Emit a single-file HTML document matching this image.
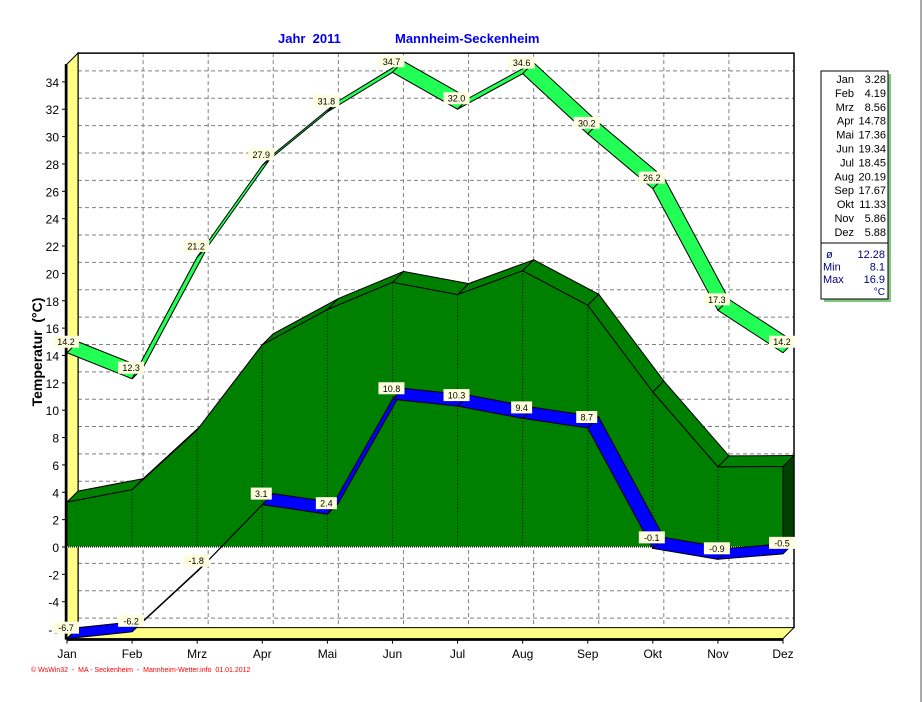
<!DOCTYPE html>
<html><head><meta charset="utf-8"><style>
body{margin:0;background:#fff;width:923px;height:702px;overflow:hidden;font-family:"Liberation Sans",sans-serif}
svg{position:absolute;left:0;top:0}
</style></head><body>
<svg width="923" height="702">
<line x1="921" y1="0" x2="921" y2="702" stroke="#aaa" stroke-width="2"/>
<g id="g"></g>
</svg>
<script>
const months=["Jan","Feb","Mrz","Apr","Mai","Jun","Jul","Aug","Sep","Okt","Nov","Dez"];
const avgVals=[3.28,4.19,8.56,14.78,17.36,19.34,18.45,20.19,17.67,11.33,5.86,5.88];
const maxVals=[14.2,12.3,21.2,27.9,31.8,34.7,32.0,34.6,30.2,26.2,17.3,14.2];
const minVals=[-6.7,-6.2,-1.8,3.1,2.4,10.8,10.3,9.4,8.7,-0.1,-0.9,-0.5];
const yTicks=[-6,-4,-2,0,2,4,6,8,10,12,14,16,18,20,22,24,26,28,30,32,34];
const summary=[["ø","12.28"],["Min","8.1"],["Max","16.9"]];
const yMin=-6.7,yMax=35.3;
const X0=67,X1=783,Y0=547,K=13.68,DX=11,DY=-11;
const xs=i=>X0+i*(X1-X0)/11;
const ys=v=>Y0-v*K;
const NS="http://www.w3.org/2000/svg";
const g=document.getElementById('g');
function el(t,a,p){const e=document.createElementNS(NS,t);for(const k in a)e.setAttribute(k,a[k]);(p||g).appendChild(e);return e;}
const pts=a=>a.map(p=>p.join(',')).join(' ');
const bT=ys(yMax)+DY,bB=ys(yMin)+DY,fT=ys(yMax),fB=ys(yMin);
let e=el('rect',{x:X0+DX,y:bT,width:X1-X0,height:bB-bT,fill:'#fff'});

yTicks.forEach(v=>{
 let l=el('line',{x1:X0+DX,x2:X1+DX,y1:ys(v)+DY,y2:ys(v)+DY,stroke:'#808080','stroke-dasharray':'4,3'});
 
 let t=el('text',{x:59,y:ys(v)+5,'font-size':12,'text-anchor':'end',fill:'#000'});t.textContent=v;
 
 el('line',{x1:62,x2:67,y1:ys(v),y2:ys(v),stroke:'#000'});
});
months.forEach((m,i)=>{
 let l=el('line',{x1:xs(i)+DX,x2:xs(i)+DX,y1:bT,y2:bB,stroke:'#808080','stroke-dasharray':'4,3'});
 
 let t=el('text',{x:xs(i),y:658,'font-size':12,'text-anchor':'middle',fill:'#000'});t.textContent=m;
 
 el('line',{x1:xs(i),x2:xs(i),y1:fB,y2:fB+5,stroke:'#000'});
});
el('polyline',{points:pts([[X0+DX,bB],[X0+DX,bT],[X1+DX,bT],[X1+DX,bB]]),fill:'none',stroke:'#000','stroke-width':1.5});
e=el('polygon',{points:pts([[X0,fT],[X0+DX,bT],[X0+DX,bB],[X0,fB]]),fill:'#ffff88',stroke:'#000'});

e=el('polygon',{points:pts([[X0,fB],[X0+DX,bB],[X1+DX,bB],[X1,fB]]),fill:'#ffff88',stroke:'#000'});

el('line',{x1:X0-1,x2:X0-1,y1:fT,y2:fB+1,stroke:'#000','stroke-width':2.5});
el('line',{x1:X0,x2:X1,y1:fB+1,y2:fB+1,stroke:'#000','stroke-width':2.5});
for(let i=0;i<11;i++){
 let a=[xs(i),ys(avgVals[i])],b=[xs(i+1),ys(avgVals[i+1])];
 e=el('polygon',{points:pts([a,b,[b[0]+DX,b[1]+DY],[a[0]+DX,a[1]+DY]]),fill:'#008000',stroke:'#000','stroke-width':1});
 
}
let fp=[[X0,Y0]];avgVals.forEach((v,i)=>fp.push([xs(i),ys(v)]));fp.push([X1,Y0]);
e=el('polygon',{points:pts(fp),fill:'#008000',stroke:'#000','stroke-width':1});

e=el('polygon',{points:pts([[X1,ys(avgVals[11])],[X1+DX,ys(avgVals[11])+DY],[X1+DX,Y0+DY],[X1,Y0]]),fill:'#004000',stroke:'#000'});

el('line',{x1:X0,x2:X1+DX,y1:Y0,y2:Y0,stroke:'#fff','stroke-dasharray':'1,1'});
avgVals.forEach((v,i)=>{if(i>0&&i<11)el('line',{x1:xs(i),x2:xs(i),y1:ys(v),y2:Y0,stroke:'#000','stroke-dasharray':'1,2'});});
function ribbons(vals,fill,name){
 for(let i=0;i<11;i++){
  let a=[xs(i),ys(vals[i])],b=[xs(i+1),ys(vals[i+1])];
  let r=el('polygon',{points:pts([a,b,[b[0]+DX,b[1]+DY],[a[0]+DX,a[1]+DY]]),fill:fill,stroke:'#000','stroke-width':1});
  
 }
}
ribbons(minVals,'#0000ff','min-ribbon');
ribbons(maxVals,'#22ff55','max-ribbon');
function labels(vals,name){
 vals.forEach((v,i)=>{
  let x=xs(i),y=ys(v);
  let s=v.toFixed(1);
  let w=s.length*5+6;
  let r=el('rect',{x:x-w/2-1,y:y-17,width:w,height:12,fill:'#ffffe0'});
  
  let t=el('text',{x:x-1,y:y-7.5,'font-size':9,'text-anchor':'middle',fill:'#000'});t.textContent=s;
  
 });
}
labels(maxVals,'max-label');labels(minVals,'min-label');
let t=el('text',{x:278,y:43,'font-size':13,'font-weight':'bold',fill:'#0000ee'});t.textContent='Jahr\u00a0\u00a02011';

t=el('text',{x:395,y:43,'font-size':13,'font-weight':'bold',fill:'#0000ee'});t.textContent='Mannheim-Seckenheim';

t=el('text',{x:0,y:0,'font-size':14,'font-weight':'bold',fill:'#000','text-anchor':'middle',transform:'translate(42,352) rotate(-90)'});t.textContent='Temperatur\u00a0\u00a0(°C)';

t=el('text',{x:31,y:672,'font-size':7,fill:'#ff0000'});t.textContent='© WsWin32\u00a0 -\u00a0 MA - Seckenheim\u00a0 -\u00a0 Mannheim-Wetter.info\u00a0 01.01.2012';

const lg=el('g',{});
el('rect',{x:824,y:74,width:67,height:228,fill:'#7fc97f'},lg);
el('rect',{x:821,y:71,width:67,height:228,fill:'#fff',stroke:'#000'},lg);
el('line',{x1:821,x2:888,y1:243,y2:243,stroke:'#000'},lg);
months.forEach((m,i)=>{
 let y=83+i*13.9;
 let a=el('text',{x:854,y:y,'font-size':11,'text-anchor':'end',fill:'#000'},lg);a.textContent=m;
 
 let b=el('text',{x:886,y:y,'font-size':11,'text-anchor':'end',fill:'#000'},lg);b.textContent=avgVals[i].toFixed(2);
 
});
summary.forEach((s,i)=>{
 let y=258+i*12.5;
 let a=el('text',{x:i==0?826:823,y:y,'font-size':11,fill:'#000080'},lg);a.textContent=s[0];
 
 let b=el('text',{x:885,y:y,'font-size':11,'text-anchor':'end',fill:'#000080'},lg);b.textContent=s[1];
 
});
t=el('text',{x:885,y:295,'font-size':10,'text-anchor':'end',fill:'#000080'},lg);t.textContent='°C';

</script>
</body></html>
